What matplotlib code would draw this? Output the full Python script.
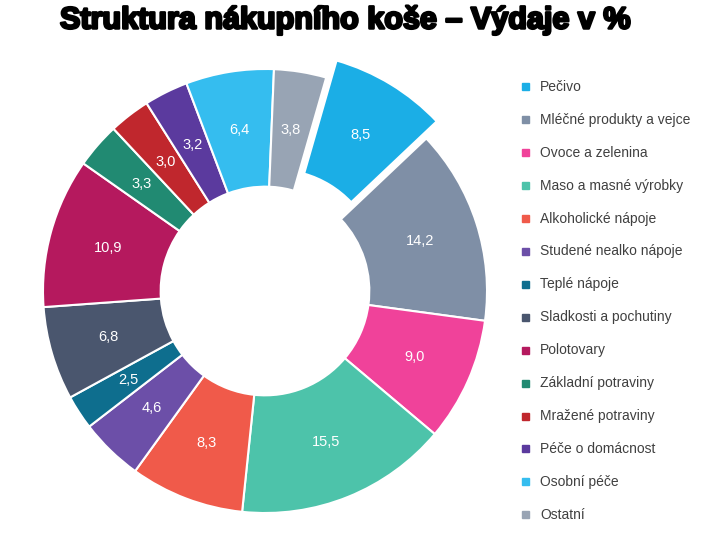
import matplotlib
matplotlib.use("Agg")
import matplotlib.pyplot as plt
import matplotlib.patheffects as pe
import numpy as np

categories = ["Pečivo", "Mléčné produkty a vejce", "Ovoce a zelenina", "Maso a masné výrobky",
              "Alkoholické nápoje", "Studené nealko nápoje", "Teplé nápoje", "Sladkosti a pochutiny",
              "Polotovary", "Základní potraviny", "Mražené potraviny", "Péče o domácnost",
              "Osobní péče", "Ostatní"]
values = [8.5, 14.2, 9.0, 15.5, 8.3, 4.6, 2.5, 6.8, 10.9, 3.3, 3.0, 3.2, 6.4, 3.8]
colors = ["#1BAEE6", "#7F8FA6", "#F0429A", "#4DC3AA", "#F05A4A", "#6C4FA8", "#0E6E8E",
          "#4A566E", "#B5195E", "#218A72", "#C0272D", "#5B3A9E", "#35BDEF", "#98A4B4"]

plt.rcParams['font.family'] = ['Liberation Sans', 'DejaVu Sans']
fig = plt.figure(figsize=(7.15, 5.42), dpi=100)
ax = fig.add_axes([35/715, 21/542, 460/715, 460/542])
explode = [0.09] + [0]*(len(values)-1)
wedges, texts = ax.pie(values, colors=colors, startangle=74, counterclock=False,
                       explode=explode, radius=1.0,
                       wedgeprops=dict(width=0.53, edgecolor='white', linewidth=1.5))
for w, v in zip(wedges, values):
    ang = np.deg2rad((w.theta1 + w.theta2) / 2)
    cx, cy = w.center
    r = 0.735
    ax.text(cx + r*np.cos(ang), cy + r*np.sin(ang), f"{v:.1f}".replace('.', ','),
            ha='center', va='center', color='white', fontsize=10.5)
ax.set_xlim(-1.036, 1.036)
ax.set_ylim(-1.036, 1.036)
ax.set_aspect('equal')
ax.axis('off')
for w in wedges:
    w.set_clip_on(False)

fig.text(345/715, 1 - 20/542, "Struktura nákupního koše – Výdaje v %",
         ha='center', va='center', fontsize=22, fontweight='bold', color='black',
         path_effects=[pe.withStroke(linewidth=1.8, foreground='black')])

for i, (c, col) in enumerate(zip(categories, colors)):
    y = 1 - (87 + i * 32.9) / 542
    fig.patches.append(plt.Rectangle((522/715, y - 3.5/542), 7/715, 7/542,
                                     transform=fig.transFigure, color=col))
    fig.text(540/715, y, c, ha='left', va='center', fontsize=10, color='#404040')

fig.savefig("out.png", dpi=100)
